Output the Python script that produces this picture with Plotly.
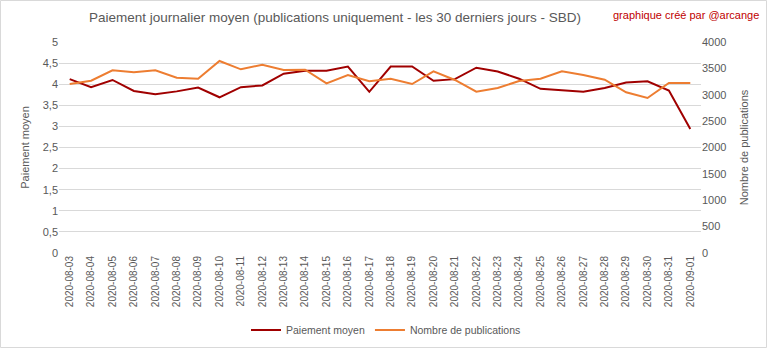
import plotly.graph_objects as go

dates = ["2020-08-03","2020-08-04","2020-08-05","2020-08-06","2020-08-07","2020-08-08","2020-08-09",
         "2020-08-10","2020-08-11","2020-08-12","2020-08-13","2020-08-14","2020-08-15","2020-08-16",
         "2020-08-17","2020-08-18","2020-08-19","2020-08-20","2020-08-21","2020-08-22","2020-08-23",
         "2020-08-24","2020-08-25","2020-08-26","2020-08-27","2020-08-28","2020-08-29","2020-08-30",
         "2020-08-31","2020-09-01"]
paiement = [4.12, 3.93, 4.10, 3.84, 3.76, 3.83, 3.92, 3.69, 3.93, 3.97, 4.25, 4.32, 4.32, 4.42,
            3.82, 4.42, 4.42, 4.08, 4.12, 4.39, 4.30, 4.13, 3.89, 3.86, 3.82, 3.91, 4.04, 4.07,
            3.85, 2.94]
publications = [3204, 3266, 3463, 3425, 3463, 3323, 3304, 3640, 3482, 3570, 3469, 3475, 3216, 3375,
                3255, 3304, 3204, 3444, 3280, 3057, 3128, 3260, 3304, 3444, 3375, 3285, 3046, 2938,
                3223, 3223]
left_ticks = [0, 0.5, 1, 1.5, 2, 2.5, 3, 3.5, 4, 4.5, 5]
left_labels = ["0", "0,5", "1", "1,5", "2", "2,5", "3", "3,5", "4", "4,5", "5"]
right_ticks = [0, 500, 1000, 1500, 2000, 2500, 3000, 3500, 4000]

W, H = 768, 349
L, R, T, B = 59, 67, 42, 96
pw, ph = W - L - R, H - T - B

font = "Liberation Sans"
gray = "#595959"

fig = go.Figure()
fig.add_trace(go.Scatter(x=dates, y=paiement, name="Paiement moyen", mode="lines",
                         line=dict(color="#a00000", width=2), yaxis="y"))
fig.add_trace(go.Scatter(x=dates, y=publications, name="Nombre de publications", mode="lines",
                         line=dict(color="#ed7d31", width=2), yaxis="y2"))

fig.update_layout(
    width=W, height=H,
    margin=dict(l=L, r=R, t=T, b=B, autoexpand=False),
    paper_bgcolor="white", plot_bgcolor="white",
    font=dict(family=font, color=gray, size=11),
    title=dict(text="Paiement journalier moyen (publications uniquement - les 30 derniers jours - SBD)",
               x=335/W, xanchor="center", y=1-17/H, yanchor="middle",
               font=dict(size=13.5, color=gray, family=font)),
    xaxis=dict(type="category", tickangle=-90, showgrid=False, showline=False,
               ticks="", tickfont=dict(size=10, color=gray), zeroline=False, automargin=False,
               range=[-0.5, len(dates) - 0.5]),
    yaxis=dict(range=[0, 5], tickvals=left_ticks, ticktext=left_labels, automargin=False,
               showgrid=True, gridcolor="#d9d9d9", gridwidth=1, zeroline=False,
               showline=False, ticks="", tickfont=dict(size=11, color=gray),
               title=dict(text="Paiement moyen", font=dict(size=11, color=gray), standoff=10)),
    yaxis2=dict(range=[0, 4000], tickvals=right_ticks, overlaying="y", side="right", automargin=False,
                showgrid=False, zeroline=False, showline=False, ticks="",
                tickfont=dict(size=11, color=gray),
                title=dict(text="Nombre de publications", font=dict(size=11, color=gray), standoff=14)),
    showlegend=True,
    legend=dict(orientation="h", x=386/W, xanchor="center", xref="container",
                y=1-330/H, yanchor="middle", yref="container",
                font=dict(size=10.5, color=gray)),
    annotations=[dict(text="graphique créé par @arcange", xref="paper", yref="paper",
                      x=(686 - L)/pw, y=(H - B - 15)/ph, xanchor="center", yanchor="middle",
                      showarrow=False, font=dict(size=11, color="#c00000", family=font))],
    shapes=[dict(type="rect", xref="paper", yref="paper",
                 x0=(0.5 - L)/pw, x1=(W - 1.5 - L)/pw,
                 y0=(H - B - (H - 1.5))/ph, y1=(H - B - 0.5)/ph,
                 line=dict(color="#d9d9d9", width=1), fillcolor="rgba(0,0,0,0)", layer="below")],
)

fig.write_html("out.html")
